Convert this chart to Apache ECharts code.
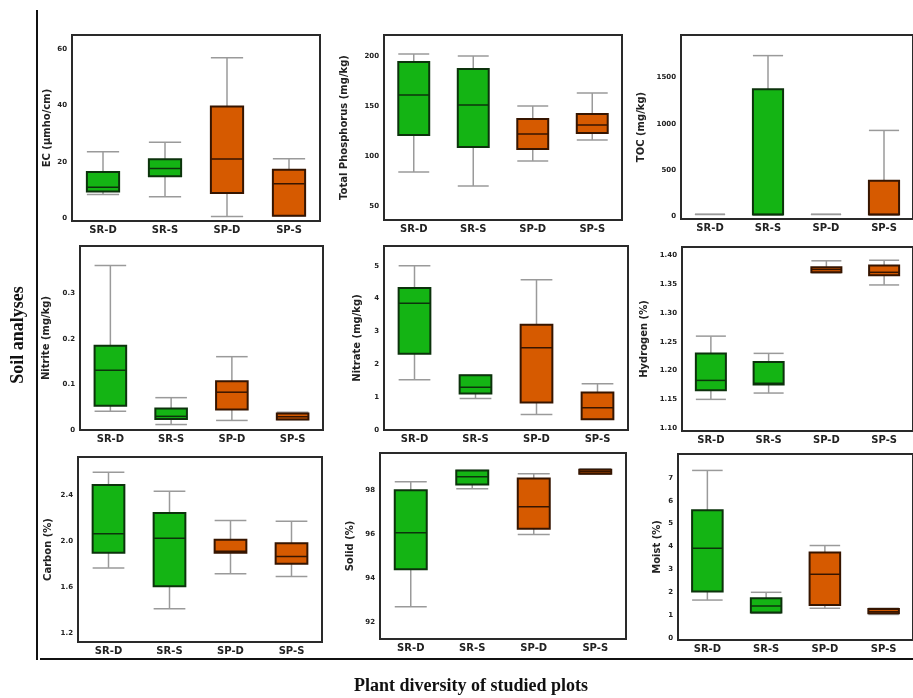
<!DOCTYPE html>
<html>
<head>
<meta charset="utf-8">
<script src="https://cdn.jsdelivr.net/npm/echarts@6/dist/echarts.min.js"></script>
<style>
  html, body { margin: 0; padding: 0; background: #fff; }
  #chart { width: 913px; height: 698px; }
</style>
</head>
<body>
<div id="chart"></div>
<script>
// plots, same order in every panel
const categories = ['SR-D', 'SR-S', 'SP-D', 'SP-S']

// each row: [low whisker, Q1, median, Q3, high whisker]
const ecData = [[8.4, 9.5, 11, 16.4, 23.6], [7.6, 14.9, 17.6, 20.9, 26.9], [0.6, 8.9, 21, 39.6, 56.9], [0.9, 0.9, 12.2, 17.2, 21.1]]
const phosphorusData = [[84, 121, 161, 194, 202], [70, 109, 151, 187, 200], [95, 107, 122, 137, 150], [116, 123, 131, 142, 163]]
const tocData = [[20, 20, 20, 20, 20], [18, 18, 18, 1374, 1737], [20, 20, 20, 20, 20], [18, 18, 18, 385, 928]]
const nitriteData = [[0.041, 0.053, 0.131, 0.185, 0.361], [0.012, 0.024, 0.030, 0.047, 0.071], [0.021, 0.045, 0.083, 0.107, 0.161], [0.023, 0.023, 0.029, 0.036, 0.039]]
const nitrateData = [[1.53, 2.32, 3.86, 4.32, 5.0], [0.96, 1.11, 1.3, 1.67, 1.67], [0.47, 0.84, 2.5, 3.2, 4.57], [0.33, 0.33, 0.68, 1.14, 1.41]]
const hydrogenData = [[1.150, 1.166, 1.183, 1.230, 1.260], [1.161, 1.176, 1.178, 1.215, 1.230], [1.370, 1.371, 1.376, 1.380, 1.391], [1.349, 1.366, 1.371, 1.383, 1.392]]
const carbonData = [[1.765, 1.896, 2.061, 2.487, 2.597], [1.409, 1.606, 2.023, 2.243, 2.432], [1.713, 1.896, 1.91, 2.009, 2.177], [1.690, 1.800, 1.864, 1.980, 2.171]]
const solidData = [[92.71, 94.42, 96.08, 98.01, 98.39], [98.08, 98.27, 98.62, 98.91, 98.91], [96.0, 96.26, 97.26, 98.54, 98.76], [98.73, 98.76, 98.85, 98.94, 98.98]]
const moistData = [[1.65, 2.02, 3.92, 5.58, 7.33], [1.07, 1.10, 1.39, 1.73, 1.99], [1.29, 1.43, 2.78, 3.73, 4.04], [1.02, 1.07, 1.14, 1.26, 1.29]]

// y tick labels shown on each panel
const ecTicks = [0, 20, 40, 60]
const phosphorusTicks = [50, 100, 150, 200]
const tocTicks = [0, 500, 1000, 1500]
const nitriteTicks = [0, 0.1, 0.2, 0.3]
const nitrateTicks = [0, 1, 2, 3, 4, 5]
const hydrogenTicks = [1.10, 1.15, 1.20, 1.25, 1.30, 1.35, 1.40]
const carbonTicks = [1.2, 1.6, 2.0, 2.4]
const solidTicks = [92, 94, 96, 98]
const moistTicks = [0, 1, 2, 3, 4, 5, 6, 7]

const GREEN = '#14b414'
const ORANGE = '#d65a00'
const FONT = 'DejaVu Sans'

// panel layout: frame box, y range, fine interval (labels filtered by ticks list)
const panels = [
  { name: 'EC (μmho/cm)', data: ecData, ticks: ecTicks, dec: 0, left: 72, top: 35, width: 248, height: 186, min: -1, max: 65, step: 1, gap: 15 },
  { name: 'Total Phosphorus (mg/kg)', data: phosphorusData, ticks: phosphorusTicks, dec: 0, left: 384, top: 35, width: 238, height: 185, min: 36, max: 221, step: 1, gap: 30 },
  { name: 'TOC (mg/kg)', data: tocData, ticks: tocTicks, dec: 0, left: 681, top: 35, width: 232, height: 184, min: -30, max: 1960, step: 10, gap: 30 },
  { name: 'Nitrite (mg/kg)', data: nitriteData, ticks: nitriteTicks, dec: 1, left: 80, top: 246, width: 243, height: 184, min: 0, max: 0.404, step: 0.1, gap: 24 },
  { name: 'Nitrate (mg/kg)', data: nitrateData, ticks: nitrateTicks, dec: 0, left: 384, top: 246, width: 244, height: 184, min: 0, max: 5.6, step: 1, gap: 17 },
  { name: 'Hydrogen (%)', data: hydrogenData, ticks: hydrogenTicks, dec: 2, left: 682, top: 247, width: 239, height: 184, min: 1.095, max: 1.415, step: 0.005, gap: 28 },
  { name: 'Carbon (%)', data: carbonData, ticks: carbonTicks, dec: 1, left: 78, top: 457, width: 244, height: 185, min: 1.12, max: 2.73, step: 0.02, gap: 20 },
  { name: 'Solid (%)', data: solidData, ticks: solidTicks, dec: 0, left: 380, top: 453, width: 246, height: 186, min: 91.25, max: 99.7, step: 0.25, gap: 20 },
  { name: 'Moist (%)', data: moistData, ticks: moistTicks, dec: 0, left: 678, top: 454, width: 252, height: 186, min: -0.1, max: 8.05, step: 0.1, gap: 11 }
]

function renderBox(params, api) {
  const x = api.value(0)
  const low = api.coord([x, api.value(1)])
  const q1 = api.coord([x, api.value(2)])
  const med = api.coord([x, api.value(3)])
  const q3 = api.coord([x, api.value(4)])
  const high = api.coord([x, api.value(5)])
  const w = api.size([1, 0])[0] * 0.52
  const cx = low[0]
  const color = x < 2 ? GREEN : ORANGE
  const edge = x < 2 ? '#0c330c' : '#361500'
  const whisker = { stroke: '#9a9a9a', lineWidth: 1.5 }
  const children = [
    { type: 'line', shape: { x1: cx, y1: high[1], x2: cx, y2: q3[1] }, style: whisker },
    { type: 'line', shape: { x1: cx, y1: q1[1], x2: cx, y2: low[1] }, style: whisker },
    { type: 'line', shape: { x1: cx - w / 2, y1: high[1], x2: cx + w / 2, y2: high[1] }, style: whisker },
    { type: 'line', shape: { x1: cx - w / 2, y1: low[1], x2: cx + w / 2, y2: low[1] }, style: whisker }
  ]
  if (Math.abs(q1[1] - q3[1]) > 0.5) {
    children.push({
      type: 'rect',
      shape: { x: cx - w / 2, y: q3[1], width: w, height: q1[1] - q3[1] },
      style: { fill: color, stroke: edge, lineWidth: 2 }
    })
    children.push({
      type: 'line',
      shape: { x1: cx - w / 2, y1: med[1], x2: cx + w / 2, y2: med[1] },
      style: { stroke: edge, lineWidth: 1.5 }
    })
  }
  return { type: 'group', children: children }
}

const grid = [], xAxis = [], yAxis = [], series = []
panels.forEach((p, i) => {
  grid.push({
    left: p.left, top: p.top, width: p.width, height: p.height,
    show: true, borderColor: '#2a2a2a', borderWidth: 2, backgroundColor: '#fff'
  })
  xAxis.push({
    type: 'category', gridIndex: i, data: categories,
    axisLine: { show: false }, axisTick: { show: false },
    axisLabel: { color: '#222', fontSize: 10, fontWeight: 'bold', fontFamily: FONT, margin: 4 }
  })
  yAxis.push({
    type: 'value', gridIndex: i, min: p.min, max: p.max, interval: p.step,
    name: p.name, nameLocation: 'middle', nameGap: p.gap + 5, nameRotate: 90,
    nameTextStyle: { color: '#222', fontSize: 10, fontWeight: 'bold', fontFamily: FONT },
    axisLine: { show: false }, axisTick: { show: false }, splitLine: { show: false },
    axisLabel: {
      color: '#222', fontSize: 7, fontWeight: 'bold', fontFamily: FONT, margin: 5,
      formatter: v => {
        const hit = p.ticks.find(t => Math.abs(t - v) < p.step / 10)
        if (hit === undefined) return ''
        return hit === 0 ? '0' : hit.toFixed(p.dec)
      }
    }
  })
  series.push({
    type: 'custom', xAxisIndex: i, yAxisIndex: i,
    renderItem: renderBox,
    encode: { x: 0, y: [1, 2, 3, 4, 5] },
    data: p.data.map((d, k) => [k].concat(d)),
    silent: true
  })
})

const chart = echarts.init(document.getElementById('chart'))
chart.setOption({
  animation: false,
  backgroundColor: '#fff',
  grid: grid,
  xAxis: xAxis,
  yAxis: yAxis,
  series: series,
  graphic: [
    { type: 'line', shape: { x1: 37, y1: 10, x2: 37, y2: 660 }, style: { stroke: '#111', lineWidth: 2 } },
    { type: 'line', shape: { x1: 40, y1: 659, x2: 913, y2: 659 }, style: { stroke: '#111', lineWidth: 2 } },
    {
      type: 'text', x: 18, y: 335, rotation: Math.PI / 2,
      style: { text: 'Soil analyses', font: 'bold 18px "Liberation Serif"', fill: '#111', align: 'center', verticalAlign: 'middle' }
    },
    {
      type: 'text', x: 471, y: 686,
      style: { text: 'Plant diversity of studied plots', font: 'bold 18px "Liberation Serif"', fill: '#111', align: 'center', verticalAlign: 'middle' }
    }
  ]
})
</script>
</body>
</html>
